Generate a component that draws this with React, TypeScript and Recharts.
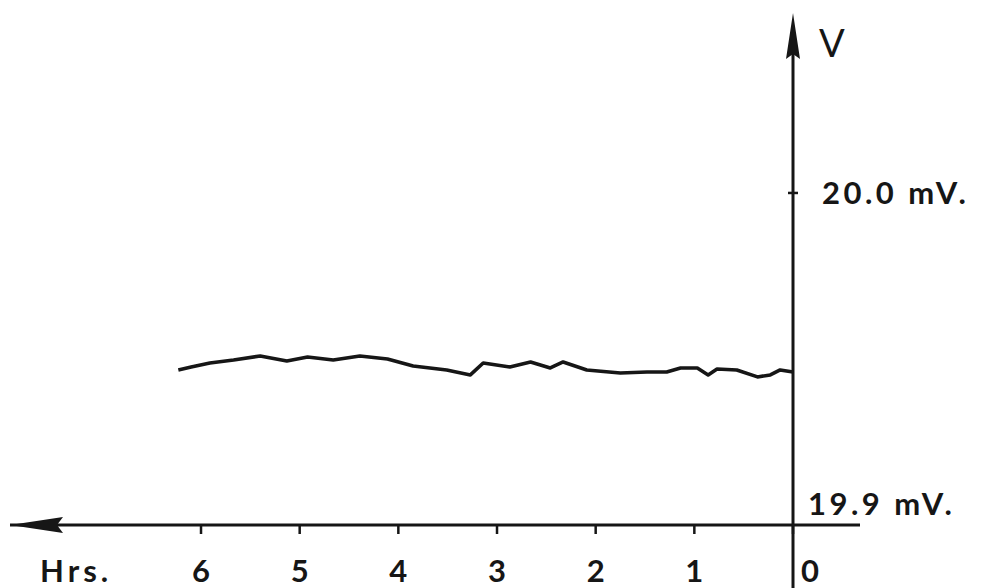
import React from "react";
import { LineChart, Line, XAxis, YAxis, ReferenceLine, ReferenceDot } from "recharts";

// hours before zero
const hours = [6.23, 6.1, 5.91, 5.67, 5.4, 5.13, 4.92, 4.66, 4.39, 4.11, 3.85, 3.51, 3.27, 3.14, 2.87, 2.66, 2.46, 2.33, 2.09, 1.75, 1.48, 1.28, 1.14, 0.97, 0.86, 0.77, 0.57, 0.36, 0.23, 0.13, 0];
const millivolts = [19.9467, 19.9476, 19.9488, 19.9497, 19.9509, 19.9494, 19.9506, 19.9497, 19.9509, 19.95, 19.9479, 19.9467, 19.9452, 19.9488, 19.9476, 19.9491, 19.9473, 19.9491, 19.9467, 19.9458, 19.9461, 19.9461, 19.9473, 19.9473, 19.9452, 19.947, 19.9467, 19.9446, 19.9452, 19.9467, 19.9461];
const hourTicks = [0, 1, 2, 3, 4, 5, 6];
const voltTop = 20.0;
const voltBottom = 19.9;

const data = hours.map((h, i) => ({ hr: h, mv: millivolts[i] }));

const font = "Lato, 'Noto Sans', sans-serif";
const ink = "#161616";

const HourTick = (props: any) => {
  const { x, y, payload } = props;
  const zero = payload.value === 0;
  return (
    <text x={zero ? x + 8 : x} y={y + 46} textAnchor={zero ? "start" : "middle"} fontFamily={font} fontSize={31} fontWeight={700} fill={ink}>
      {payload.value}
    </text>
  );
};

const LeftArrow = (props: any) => {
  const { cx, cy } = props;
  return <polygon points={`${cx},${cy} ${cx + 53},${cy - 8} ${cx + 47},${cy} ${cx + 53},${cy + 8}`} fill={ink} />;
};

const UpArrow = (props: any) => {
  const { cx, cy } = props;
  return (
    <g>
      <polygon points={`${cx},${cy} ${cx + 7},${cy + 46} ${cx},${cy + 41} ${cx - 7},${cy + 46}`} fill={ink} />
      <text x={cx + 26} y={cy + 44} fontFamily={font} fontSize={38} fontWeight={400} fill={ink}>V</text>
    </g>
  );
};

const TopLabel = (props: any) => {
  const { cx, cy } = props;
  return (
    <g>
      <line x1={cx - 5} y1={cy} x2={cx + 5} y2={cy} stroke={ink} strokeWidth={2.5} />
      <text x={cx + 29} y={cy + 11} fontFamily={font} fontSize={31} fontWeight={700} letterSpacing={3.5} fill={ink}>20.0 mV.</text>
    </g>
  );
};

const BottomLabel = (props: any) => {
  const { cx, cy } = props;
  return (
    <text x={cx + 15} y={cy - 10} fontFamily={font} fontSize={31} fontWeight={700} letterSpacing={3.5} fill={ink}>19.9 mV.</text>
  );
};

export default function App() {
  return (
    <div style={{ position: "absolute", left: 0, top: 0, background: "#fff" }}>
      <LineChart width={985} height={588} data={data} margin={{ top: 13, right: 125, left: 10, bottom: 0 }}>
        <XAxis
          type="number"
          dataKey="hr"
          domain={[-0.679, 7.936]}
          reversed
          allowDataOverflow
          ticks={hourTicks}
          height={63}
          axisLine={{ stroke: ink, strokeWidth: 3 }}
          tickLine={{ stroke: ink, strokeWidth: 2.5 }}
          tickSize={9}
          tick={<HourTick />}
          label={{
            content: (p: any) => (
              <text x={p.viewBox.x + 30} y={p.viewBox.y + 57} fontFamily={font} fontSize={31} fontWeight={700} letterSpacing={4} fill={ink}>Hrs.</text>
            ),
          }}
        />
        <YAxis hide domain={[voltBottom, 20.0542]} allowDataOverflow />
        <ReferenceLine
          segment={[{ x: 0, y: 19.881 }, { x: 0, y: 20.045 }]}
          stroke={ink}
          strokeWidth={3}
          ifOverflow="visible"
        />
        <ReferenceDot x={7.936} y={voltBottom} shape={<LeftArrow />} ifOverflow="visible" />
        <ReferenceDot x={0} y={20.0542} shape={<UpArrow />} ifOverflow="visible" />
        <ReferenceDot x={0} y={voltTop} shape={<TopLabel />} ifOverflow="visible" />
        <ReferenceDot x={0} y={voltBottom} shape={<BottomLabel />} ifOverflow="visible" />
        <Line
          type="linear"
          dataKey="mv"
          stroke={ink}
          strokeWidth={3.6}
          strokeLinejoin="round"
          dot={false}
          isAnimationActive={false}
        />
      </LineChart>
    </div>
  );
}
